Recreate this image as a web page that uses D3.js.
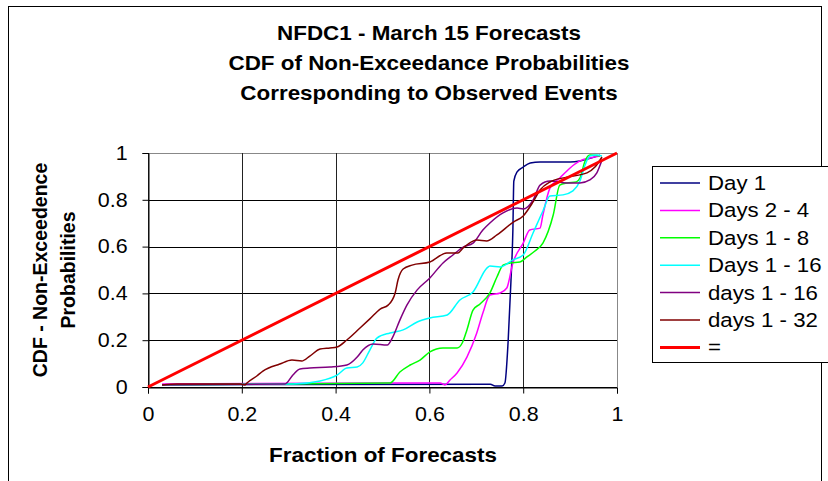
<!DOCTYPE html>
<html><head><meta charset="utf-8">
<script src="https://cdn.jsdelivr.net/npm/d3@7"></script>
<style>
body{margin:0;background:#fff;}
text{font-family:"Liberation Sans",Arial,sans-serif;}
</style></head>
<body><svg id="c" width="828" height="481"></svg>
<script>
const titleLines = ["NFDC1 - March 15 Forecasts","CDF of Non-Exceedance Probabilities","Corresponding to Observed Events"];
const xLabel = "Fraction of Forecasts";
const yLabelLines = ["CDF - Non-Exceedence","Probabilities"];
const xTicks = [0,0.2,0.4,0.6,0.8,1];
const yTicks = [0,0.2,0.4,0.6,0.8,1];
const seriesNames = ["Day 1","Days 2 - 4","Days 1 - 8","Days 1 - 16","days 1 - 16","days 1 - 32","="];
const seriesColors = ["#000080","#FF00FF","#00FF00","#00FFFF","#800080","#800000","#FF0000"];

const day1 = [[0.03,0.01],[0.73,0.012],[0.74,0.004],[0.755,0.004],[0.761,0.017],[0.768,0.20],[0.774,0.457],[0.778,0.671],[0.780,0.88],[0.787,0.919],[0.80,0.94],[0.815,0.957],[0.836,0.962],[0.90,0.962],[0.921,0.966],[0.964,0.991]];
const days2to4 = [[0.03,0.013],[0.623,0.017],[0.633,0.009],[0.644,0.03],[0.659,0.06],[0.68,0.128],[0.701,0.231],[0.714,0.316],[0.729,0.393],[0.751,0.402],[0.765,0.423],[0.778,0.53],[0.80,0.615],[0.814,0.671],[0.836,0.679],[0.842,0.735],[0.857,0.85],[0.878,0.893],[0.90,0.936],[0.921,0.966],[0.942,0.979],[0.964,0.987]];
const days1to8 = [[0.03,0.009],[0.516,0.017],[0.537,0.064],[0.559,0.094],[0.58,0.115],[0.601,0.15],[0.629,0.167],[0.659,0.167],[0.67,0.188],[0.68,0.244],[0.693,0.329],[0.708,0.355],[0.729,0.402],[0.744,0.47],[0.757,0.521],[0.772,0.53],[0.793,0.534],[0.808,0.556],[0.825,0.581],[0.842,0.615],[0.864,0.735],[0.878,0.863],[0.893,0.872],[0.913,0.876],[0.921,0.893],[0.932,0.966],[0.942,0.991],[0.964,0.987]];
const days1to16a = [[0.03,0.009],[0.309,0.013],[0.367,0.026],[0.403,0.051],[0.424,0.081],[0.446,0.085],[0.458,0.103],[0.473,0.158],[0.488,0.209],[0.516,0.231],[0.544,0.244],[0.574,0.278],[0.601,0.295],[0.638,0.308],[0.665,0.372],[0.693,0.406],[0.723,0.509],[0.729,0.517],[0.751,0.513],[0.778,0.543],[0.80,0.564],[0.821,0.658],[0.842,0.752],[0.857,0.816],[0.885,0.821],[0.906,0.838],[0.921,0.88],[0.932,0.949],[0.942,0.987],[0.957,0.991],[0.968,0.987]];
const days1to16b = [[0.03,0.009],[0.292,0.013],[0.309,0.051],[0.324,0.077],[0.345,0.081],[0.388,0.085],[0.424,0.094],[0.446,0.128],[0.458,0.158],[0.48,0.184],[0.51,0.179],[0.522,0.214],[0.537,0.286],[0.552,0.35],[0.574,0.415],[0.601,0.466],[0.629,0.53],[0.65,0.564],[0.672,0.598],[0.693,0.615],[0.714,0.671],[0.729,0.701],[0.757,0.744],[0.787,0.765],[0.80,0.761],[0.821,0.799],[0.836,0.863],[0.857,0.88],[0.893,0.872],[0.921,0.872],[0.942,0.885],[0.957,0.915],[0.968,0.97]];
const days1to32 = [[0.03,0.009],[0.062,0.013],[0.196,0.013],[0.207,0.009],[0.211,0.017],[0.232,0.047],[0.245,0.068],[0.281,0.098],[0.307,0.115],[0.328,0.111],[0.345,0.132],[0.367,0.162],[0.388,0.167],[0.403,0.171],[0.424,0.201],[0.452,0.252],[0.473,0.291],[0.495,0.333],[0.512,0.35],[0.527,0.402],[0.533,0.457],[0.544,0.504],[0.563,0.521],[0.601,0.534],[0.637,0.573],[0.661,0.573],[0.672,0.594],[0.701,0.628],[0.722,0.624],[0.744,0.65],[0.779,0.705],[0.80,0.731],[0.821,0.791],[0.836,0.842],[0.857,0.876],[0.893,0.897],[0.936,0.915],[0.953,0.94],[0.968,0.983]];
const diagonal = [[0,0],[1,1]];

const seriesData = [day1,days2to4,days1to8,days1to16a,days1to16b,days1to32,diagonal];
const seriesWidths = [1.5,1.5,1.5,1.5,1.5,1.5,3];

const svg = d3.select("#c");
const W=828,H=481;
const plot = {l:148,r:617,t:153,b:387};
const x = d3.scaleLinear().domain([0,1]).range([plot.l,plot.r]);
const y = d3.scaleLinear().domain([0,1]).range([plot.b,plot.t]);

svg.append("rect").attr("x",0).attr("y",0).attr("width",W).attr("height",H).attr("fill","#fff");
svg.append("rect").attr("x",8.5).attr("y",6.5).attr("width",813).attr("height",500).attr("fill","none").attr("stroke","#000").attr("stroke-width",1);

const SX = 1.1, TSX = 1.15;
// titles
titleLines.forEach((t,i)=>{
  svg.append("text").attr("transform",`translate(429,${40+i*30}) scale(${TSX},1)`)
    .attr("text-anchor","middle").attr("font-weight","bold").attr("font-size",19.5).text(t);
});

// grid
const g = svg.append("g");
g.selectAll(".hg").data(yTicks).join("line").attr("x1",plot.l).attr("x2",plot.r)
  .attr("y1",d=>Math.round(y(d))+0.5).attr("y2",d=>Math.round(y(d))+0.5).attr("stroke",(d)=>d===1?"#888":"#000").attr("stroke-width",1);
g.selectAll(".vg").data(xTicks).join("line").attr("y1",plot.t).attr("y2",plot.b)
  .attr("x1",d=>Math.round(x(d))+0.5).attr("x2",d=>Math.round(x(d))+0.5).attr("stroke",(d)=>d===1?"#888":"#222").attr("stroke-width",1);

// axes
const xa = svg.append("g").attr("transform",`translate(0,${plot.b+0.5})`)
  .call(d3.axisBottom(x).tickValues(xTicks).tickSize(6).tickPadding(14).tickFormat(d3.format("~g")));
const ya = svg.append("g").attr("transform",`translate(${plot.l+0.5},0)`)
  .call(d3.axisLeft(y).tickValues(yTicks).tickSize(6).tickPadding(13).tickFormat(d3.format("~g")));
[xa,ya].forEach(a=>{
  a.select(".domain").attr("stroke","#000");
  a.selectAll(".tick line").attr("stroke","#000");
  a.selectAll("text").attr("font-size",19.5).attr("font-family","Liberation Sans, Arial, sans-serif").attr("fill","#000");
});
xa.selectAll(".tick text").attr("transform",`scale(${SX},1)`);
ya.selectAll(".tick text").attr("transform",`scale(${SX},1)`);

// axis titles
svg.append("text").attr("transform",`translate(383,462) scale(${TSX},1)`).attr("text-anchor","middle")
  .attr("font-weight","bold").attr("font-size",19.5).text(xLabel);
yLabelLines.forEach((t,i)=>{
  svg.append("text").attr("transform",`translate(${47+i*28},270) rotate(-90)`).attr("text-anchor","middle")
    .attr("font-weight","bold").attr("font-size",19.5).text(t);
});

// lines
const line = d3.line().x(d=>x(d[0])).y(d=>y(d[1])).curve(d3.curveMonotoneX);
const lg = svg.append("g");
seriesData.forEach((s,i)=>{
  if(i===6) return;
  lg.append("path").datum(s).attr("d",line).attr("fill","none").attr("stroke",seriesColors[i]).attr("stroke-width",seriesWidths[i]);
});
lg.append("path").datum(diagonal).attr("d",d3.line().x(d=>x(d[0])).y(d=>y(d[1]))).attr("fill","none").attr("stroke",seriesColors[6]).attr("stroke-width",3);

// legend
const leg = svg.append("g");
leg.append("rect").attr("x",652.5).attr("y",166.5).attr("width",200).attr("height",196).attr("fill","#fff").attr("stroke","#000");
seriesNames.forEach((n,i)=>{
  const yy = 183 + i*27.4;
  leg.append("line").attr("x1",660).attr("x2",700).attr("y1",yy).attr("y2",yy).attr("stroke",seriesColors[i]).attr("stroke-width",i===6?3:1.5);
  leg.append("text").attr("transform",`translate(708,${yy+7}) scale(1.14,1)`).attr("font-size",19.5).text(n);
});
</script></body></html>
